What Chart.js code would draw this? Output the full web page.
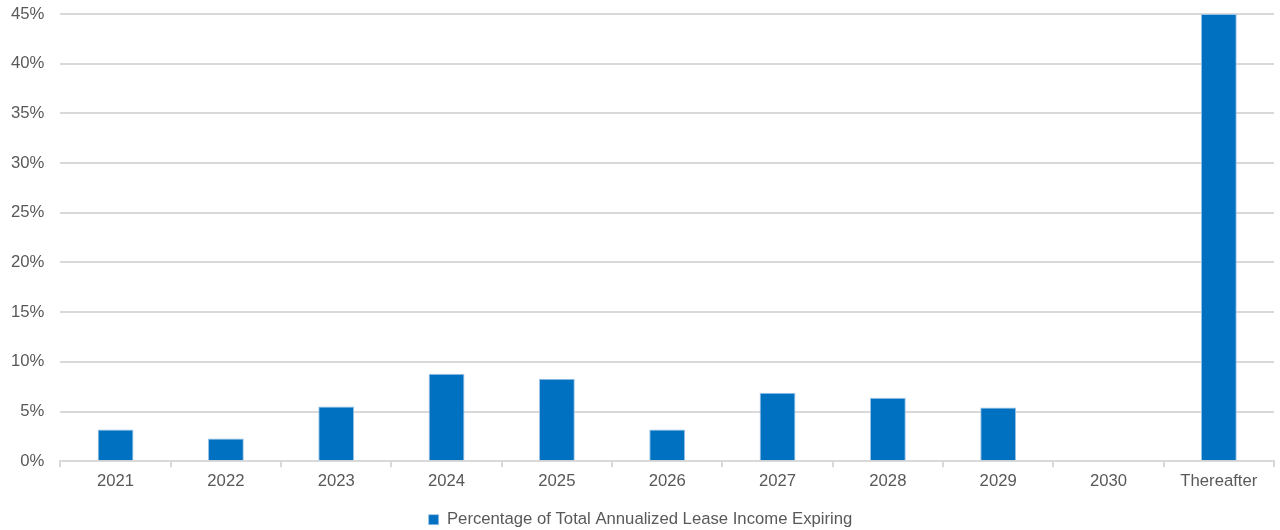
<!DOCTYPE html>
<html>
<head>
<meta charset="utf-8">
<script src="https://cdn.jsdelivr.net/npm/chart.js@4.4.1/dist/chart.umd.min.js"></script>
<style>
  html, body { margin: 0; padding: 0; background: #fff; overflow: hidden; }
  #wrap { width: 1280px; height: 538px; }
</style>
</head>
<body>
<div id="wrap"><canvas id="leaseChart"></canvas></div>
<script>
const CATEGORIES = ["2021", "2022", "2023", "2024", "2025", "2026", "2027", "2028", "2029", "2030", "Thereafter"];
const EXPIRING_PCT = [3.2, 2.3, 5.5, 8.8, 8.3, 3.2, 6.9, 6.4, 5.4, 0, 45];
const SERIES_LABEL = "Percentage of Total Annualized Lease Income Expiring";
const Y_TICKS = [0, 5, 10, 15, 20, 25, 30, 35, 40, 45];

(function() {
  window.addEventListener("load", draw);

  function draw() {
    Chart.defaults.font.family = "'Liberation Sans', Arial, sans-serif";
    Chart.defaults.font.size = 16.7;
    Chart.defaults.color = "#595959";

    const CTX = document.getElementById("leaseChart");
    new Chart(CTX, {
      type: 'bar',
      data: {
        labels: CATEGORIES,
        datasets: [{
          label: SERIES_LABEL,
          data: EXPIRING_PCT,
          backgroundColor: "#0070C0",
          borderColor: "#9DC3E6",
          borderWidth: { left: 1, right: 1, top: 1, bottom: 0 },
          barPercentage: 0.65,
          categoryPercentage: 0.5
        }]
      },
      options: {
        responsive: true,
        maintainAspectRatio: false,
        animation: false,
        layout: { padding: { top: 0, right: 6, left: 7, bottom: 0 } },
        plugins: {
          legend: {
            position: 'bottom',
            labels: {
              boxWidth: 10,
              boxHeight: 10,
              padding: 16,
              color: "#595959"
            }
          },
          tooltip: { enabled: false }
        },
        scales: {
          x: {
            grid: {
              offset: true,
              drawOnChartArea: false,
              drawTicks: true,
              tickLength: 6,
              color: "#d9d9d9",
              lineWidth: 2
            },
            border: { display: true, color: "#d9d9d9", width: 2 },
            ticks: { padding: 4, color: "#595959" }
          },
          y: {
            min: 0,
            max: 45,
            afterBuildTicks: function(axis) {
              axis.ticks = Y_TICKS.map(function(v) { return { value: v }; });
            },
            grid: { color: "#d9d9d9", lineWidth: 2, drawTicks: true, tickLength: 12, tickColor: "rgba(0,0,0,0)" },
            border: { display: false },
            ticks: {
              padding: 4,
              color: "#595959",
              callback: function(v) { return v + "%"; }
            }
          }
        }
      }
    });
  }
})();
</script>
</body>
</html>
